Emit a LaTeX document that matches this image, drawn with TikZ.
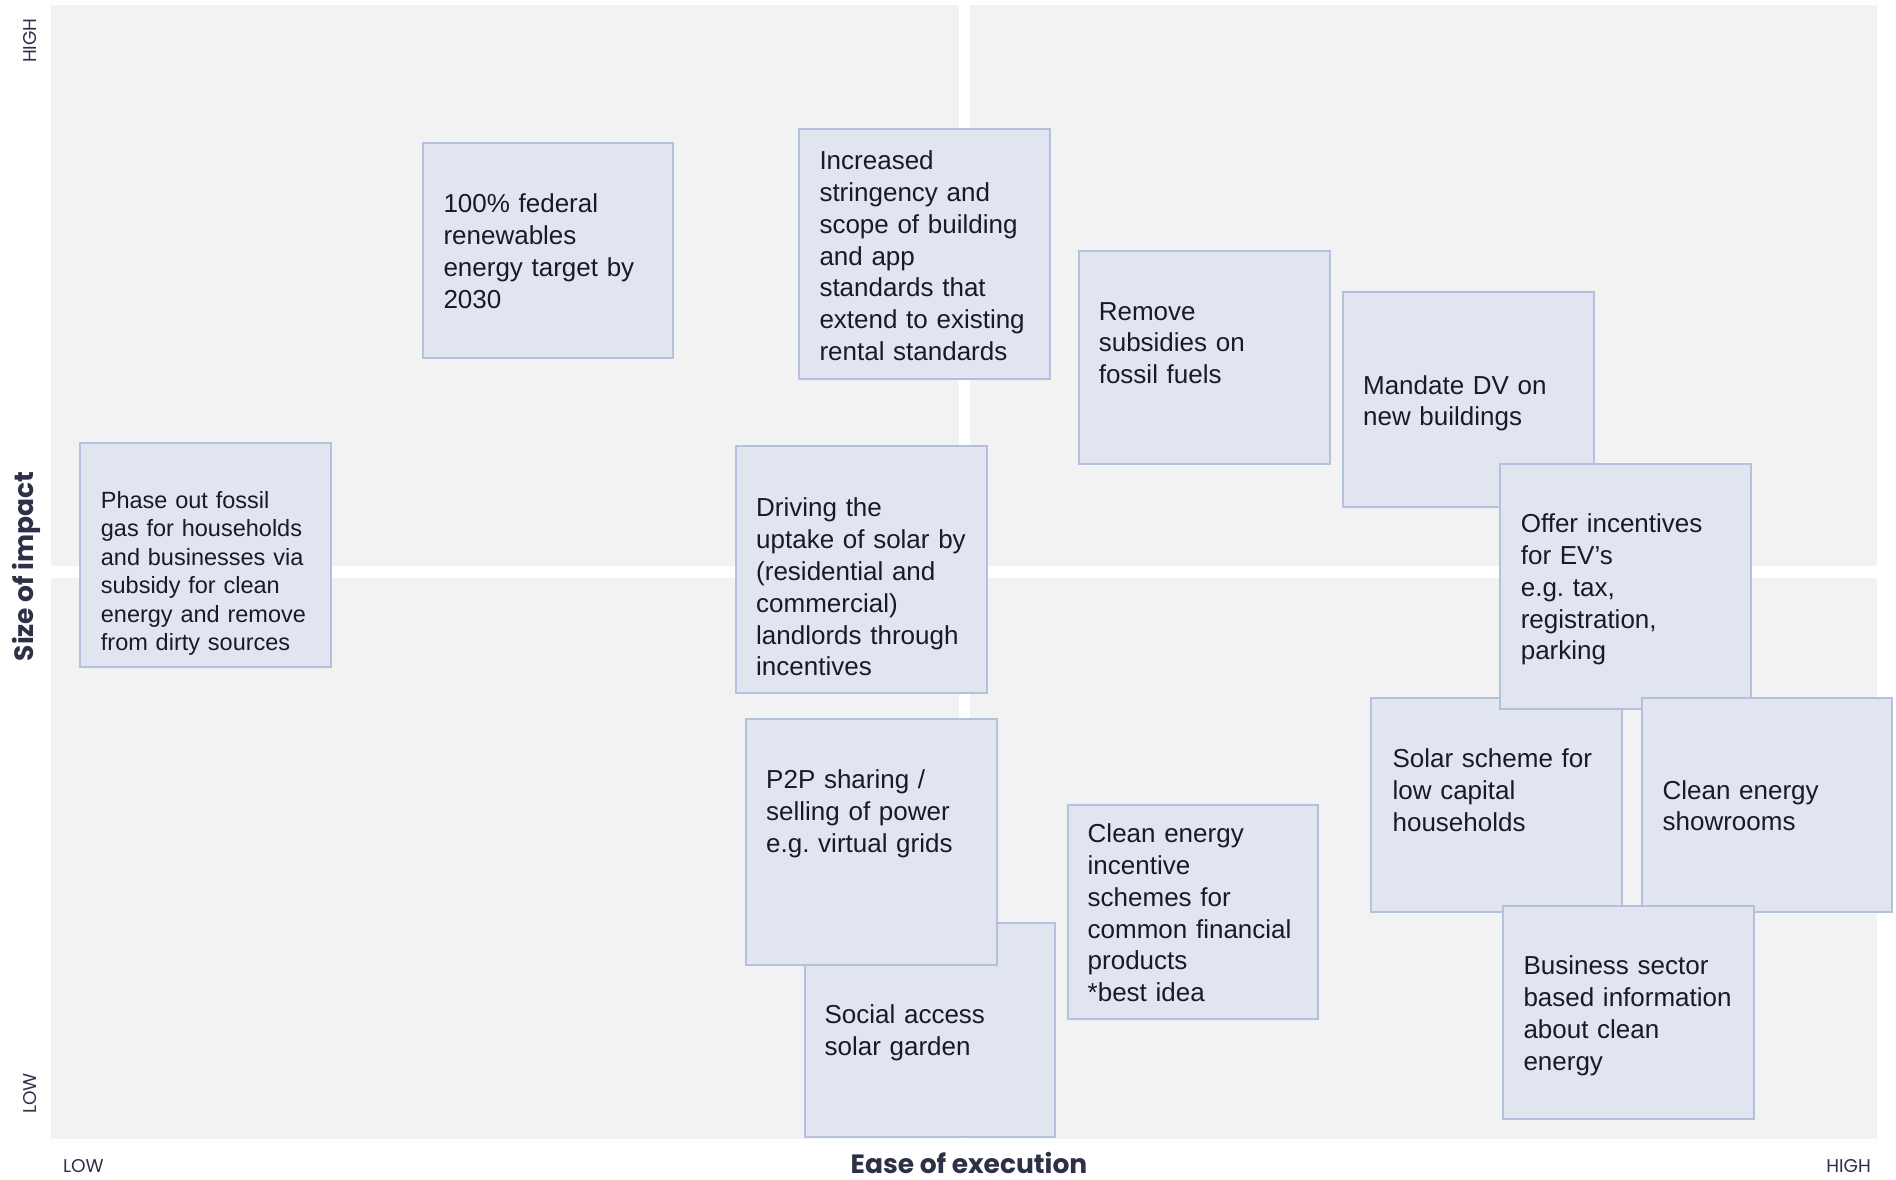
\documentclass[tikz,border=0pt]{standalone}
\usepackage{fontspec}
\setmainfont{Liberation Sans}
\newfontfamily\axisfont{Poppins}
\definecolor{quad}{HTML}{F2F2F2}
\definecolor{boxfill}{HTML}{E1E5F0}
\definecolor{boxline}{HTML}{B3C1DD}
\definecolor{txt}{HTML}{1A1A26}
\definecolor{axis}{HTML}{2D3047}
\begin{document}
\frenchspacing
\begin{tikzpicture}[x=1pt,y=-1pt,
  quadbg/.style={fill=quad},
  idea/.style={draw=boxline, fill=boxfill, line width=1.8pt, rectangle, inner sep=0pt},
  ideatext/.style={anchor=base west, inner sep=0pt, align=left, text width=245pt, text=txt,
    font=\frenchspacing\fontsize{26}{31.9}\selectfont},
  ideasmall/.style={ideatext, font=\frenchspacing\fontsize{23.5}{28.5}\selectfont},
  axlabel/.style={inner sep=0pt, text=axis, font=\axisfont\fontsize{18.5}{20}\selectfont},
  axtitle/.style={inner sep=0pt, text=axis, font=\axisfont\bfseries\fontsize{26.5}{28}\selectfont}]
% canvas
\fill[white] (0,0) rectangle (1896,1179);
\useasboundingbox (0,0) rectangle (1896,1179);
% quadrants
\fill[quadbg] (51,5) rectangle (959,566);
\fill[quadbg] (970,5) rectangle (1877,566);
\fill[quadbg] (51,578) rectangle (959,1139);
\fill[quadbg] (970,578) rectangle (1877,1139);
% idea boxes (drawing order gives the overlaps)
\node[idea, minimum width=251pt, minimum height=224pt] (A) at (205.5,555) {};
\node[idea, minimum width=250pt, minimum height=215pt] (B) at (548,250.5) {};
\node[idea, minimum width=251pt, minimum height=250pt] (C) at (924.5,254) {};
\node[idea, minimum width=251pt, minimum height=213pt] (D) at (1204.5,357.5) {};
\node[idea, minimum width=251pt, minimum height=215pt] (E) at (1468.5,399.5) {};
\node[idea, minimum width=251pt, minimum height=247pt] (G) at (861.5,569.5) {};
\node[idea, minimum width=250pt, minimum height=214pt] (I) at (930,1030) {};
\node[idea, minimum width=251pt, minimum height=246pt] (H) at (871.5,842) {};
\node[idea, minimum width=250pt, minimum height=214pt] (J) at (1193,912) {};
\node[idea, minimum width=251pt, minimum height=214pt] (K) at (1496.5,805) {};
\node[idea, minimum width=251pt, minimum height=245pt] (F) at (1625.5,586.5) {};
\node[idea, minimum width=250pt, minimum height=214pt] (L) at (1767,805) {};
\node[idea, minimum width=251pt, minimum height=213pt] (M) at (1628.5,1012.5) {};
% texts
\node[ideasmall] (tA) at (100.7,508.3) {Phase out fossil\\gas for households\\and businesses via\\subsidy for clean\\energy and remove\\from dirty sources};
\node[ideatext] (tB) at (443.3,212.3) {100\% federal\\renewables\\energy target by\\2030};
\node[ideatext] (tC) at (819.3,169.3) {Increased\\stringency and\\scope of building\\and app\\standards that\\extend to existing\\rental standards};
\node[ideatext] (tD) at (1098.6,320) {Remove\\subsidies on\\fossil fuels};
\node[ideatext] (tE) at (1362.9,394) {Mandate DV on\\new buildings};
\node[ideatext] (tG) at (756,516.4) {Driving the\\uptake of solar by\\(residential and\\commercial)\\landlords through\\incentives};
\node[ideatext] (tI) at (824.4,1023.3) {Social access\\solar garden};
\node[ideatext] (tH) at (766,788.2) {P2P sharing /\\selling of power\\e.g. virtual grids};
\node[ideatext] (tJ) at (1087.5,842.3) {Clean energy\\incentive\\schemes for\\common financial\\products\\{*}best idea};
\node[ideatext] (tK) at (1392.4,767.7) {Solar scheme for\\low capital\\households};
\node[ideatext] (tF) at (1520.6,532.3) {Offer incentives\\for EV’s\\e.g. tax,\\registration,\\parking};
\node[ideatext] (tL) at (1662.4,799) {Clean energy\\showrooms};
\node[ideatext] (tM) at (1523.3,974.3) {Business sector\\based information\\about clean\\energy};
% axes
\node[axlabel, anchor=base west] (xlow) at (63,1172) {LOW};
\node[axlabel, anchor=base east] (xhigh) at (1871,1172) {HIGH};
\node[axlabel, anchor=base west, rotate=90] (yhigh) at (36,63) {HIGH};
\node[axlabel, anchor=base west, rotate=90] (ylow) at (36,1114) {LOW};
\node[axtitle, anchor=base] (xtitle) at (969,1173) {Ease of execution};
\node[axtitle, anchor=base, rotate=90] (ytitle) at (33.3,566.3) {Size of impact};
\end{tikzpicture}
\end{document}
